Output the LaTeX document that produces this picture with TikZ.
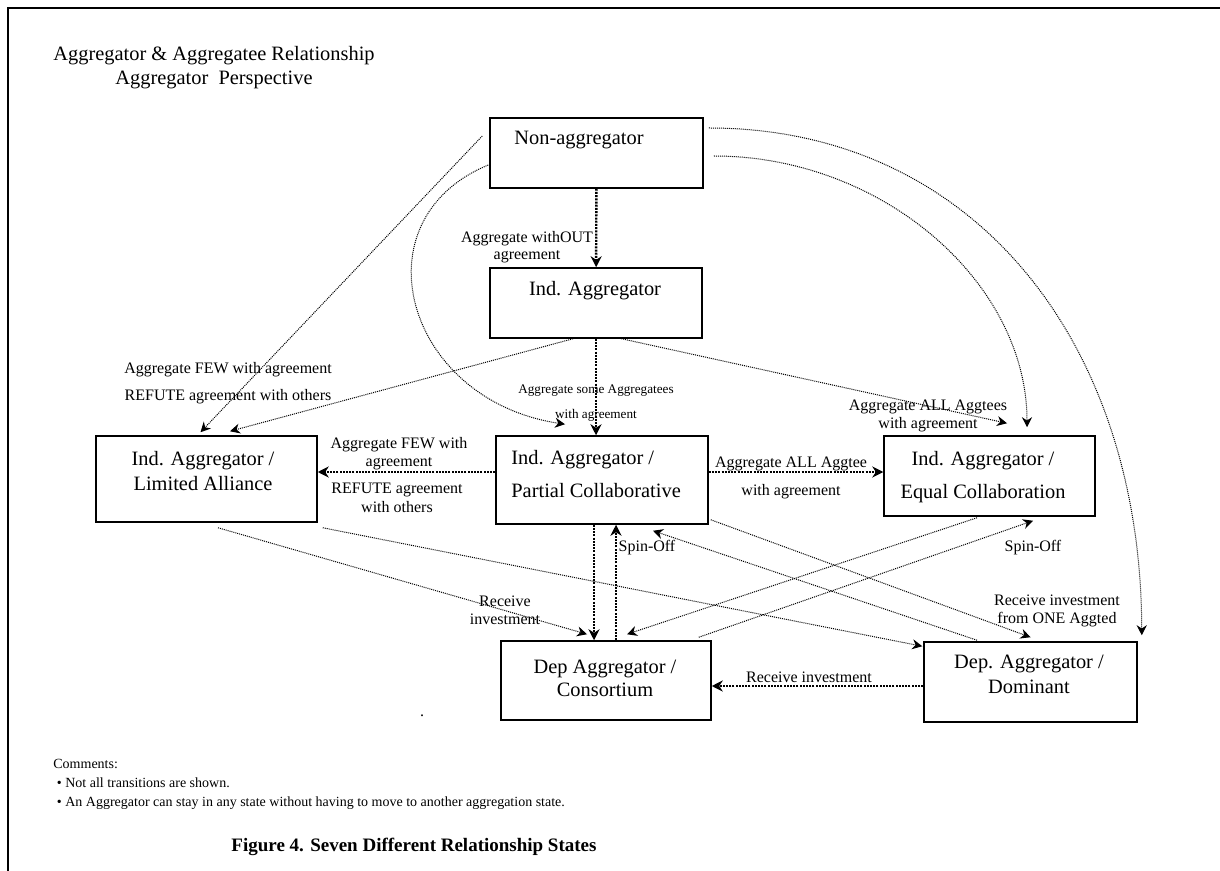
\documentclass[tikz,border=0pt]{standalone}
\usepackage{fontspec}
\setmainfont{Liberation Serif}
\usetikzlibrary{arrows.meta}

\begin{document}
\begin{tikzpicture}[x=0.5pt, y=-0.5pt,
    state/.style={draw, line width=0.75pt, inner sep=0pt},
    statetext/.style={inner sep=0pt, align=center, font=\fontsize{10.2}{12.5}\selectfont},
    lbl/.style={inner sep=0pt, align=center, font=\fontsize{8}{9}\selectfont},
    bigarr/.style={line width=1.2pt, dash pattern=on 1pt off 0.6pt, -{Stealth[length=5.5pt,width=5.5pt]}},
    thinarr/.style={line width=0.5pt, dash pattern=on 0.5pt off 0.5pt, -{Stealth[length=5pt,width=5pt]}}]

  \useasboundingbox (0,0) rectangle (1220,871);
  \draw[line width=1pt] (8,871) -- (8,8) -- (1220,8);

  \node[statetext, anchor=north, font=\fontsize{10.2}{12}\selectfont] (title) at (214,46)
    {Aggregator \& Aggregatee Relationship\\Aggregator~~Perspective};

  % states
  \node[state, minimum width=106.5pt, minimum height=35pt] (nonagg) at (596.5,153) {};
  \node[state, minimum width=106pt, minimum height=35pt] (indagg) at (596,303) {};
  \node[state, minimum width=110.5pt, minimum height=43pt] (limall) at (206.5,479) {};
  \node[state, minimum width=106pt, minimum height=44pt] (partcol) at (602,480) {};
  \node[state, minimum width=105.5pt, minimum height=40pt] (eqcol) at (989.5,476) {};
  \node[state, minimum width=105pt, minimum height=39.5pt] (consort) at (606,680.5) {};
  \node[state, minimum width=106.5pt, minimum height=40pt] (dom) at (1030.5,682) {};

  \node[statetext, anchor=north] (nonaggtxt) at (579,131) {Non-aggregator};
  \node[statetext, anchor=north] (indaggtxt) at (595,281) {Ind. Aggregator};
  \node[statetext, anchor=north] (limalltxt) at (203,451) {Ind. Aggregator /\\Limited Alliance};
  \node[statetext, anchor=north west, align=left, font=\fontsize{10.2}{16.5}\selectfont] (partcoltxt) at (511,450)
    {Ind. Aggregator /\\Partial Collaborative};
  \node[statetext, anchor=north, font=\fontsize{10.2}{16.5}\selectfont] (eqcoltxt) at (983,451)
    {Ind. Aggregator /\\Equal Collaboration};
  \node[statetext, anchor=north, font=\fontsize{10.2}{11.5}\selectfont] (consorttxt) at (605,660)
    {Dep Aggregator /\\Consortium};
  \node[statetext, anchor=north] (domtxt) at (1029,655) {Dep. Aggregator /\\Dominant};

  % transitions
  \draw[bigarr] (nonagg) -- (indagg);
  \draw[bigarr] (indagg.south) -- (indagg.south |- partcol.north);
  \draw[bigarr] ([yshift=4pt]partcol.west) -- ([yshift=4pt]partcol.west -| limall.east);
  \draw[bigarr] ([yshift=4pt]partcol.east) -- ([yshift=4pt]partcol.east -| eqcol.west);
  \draw[bigarr] ([xshift=-4pt]partcol.south) -- ([xshift=-4pt]partcol.south |- consort.north);
  \draw[bigarr] ([xshift=7pt]partcol.south |- consort.north) -- ([xshift=7pt]partcol.south);
  \draw[bigarr] ([yshift=-2pt]dom.west) -- ([yshift=-2pt]dom.west -| consort.east);

  \draw[thinarr] ([shift={(-7,-17)}]nonagg.west) -- ([shift={(-6,-3)}]limall.north);
  \draw[thinarr] ([shift={(-23,0)}]indagg.south) -- ([shift={(23.5,-4)}]limall.north);
  \draw[thinarr] ([shift={(-1,12)}]nonagg.west) .. controls (355,220) and (405,400) .. ([shift={(-37,-11)}]partcol.north);
  \draw[thinarr] ([shift={(5,-25)}]nonagg.east) .. controls (973,128) and (1141,341) .. ([shift={(4,-6)}]dom.north east);
  \draw[thinarr] ([shift={(10,3)}]nonagg.east) .. controls (883,156) and (1027,283) .. ([shift={(37.5,-8)}]eqcol.north);
  \draw[thinarr] ([shift={(21,-1)}]indagg.south) -- ([shift={(17.5,-12)}]eqcol.north);
  \draw[thinarr] ([shift={(11.5,5)}]limall.south) -- ([shift={(-19,-6)}]consort.north);
  \draw[thinarr] ([shift={(5,5)}]limall.south east) -- ([shift={(-1,5)}]dom.north west);
  \draw[thinarr] ([shift={(2,-5)}]partcol.south east) -- ([shift={(0,-4)}]dom.north);
  \draw[thinarr] ([shift={(-53.5,-1)}]dom.north) -- ([shift={(51,6)}]partcol.south);
  \draw[thinarr] ([shift={(-12.5,1)}]eqcol.south) -- ([shift={(21,-6)}]consort.north);
  \draw[thinarr] ([shift={(-13,-3)}]consort.north east) -- ([shift={(43.5,4)}]eqcol.south);

  % transition labels
  \node[lbl, anchor=north, font=\fontsize{8}{8.5}\selectfont] (withoutlbl) at (527,231) {Aggregate withOUT\\agreement};
  \node[lbl, anchor=north, font=\fontsize{6.6}{12.5}\selectfont] (somelbl) at (596,384) {Aggregate some Aggregatees\\with agreement};
  \node[lbl, anchor=north, font=\fontsize{8}{13.5}\selectfont] (fewtoplbl) at (228,362) {Aggregate FEW with agreement\\REFUTE agreement with others};
  \node[lbl, anchor=north] (fewlbl) at (399,437) {Aggregate FEW with\\agreement};
  \node[lbl, anchor=north, font=\fontsize{8}{9.5}\selectfont] (refutelbl) at (397,483) {REFUTE agreement\\with others};
  \node[lbl, anchor=north, font=\fontsize{8}{14}\selectfont] (alllbl) at (791,457) {Aggregate ALL Aggtee\\with agreement};
  \node[lbl, anchor=north] (alltoplbl) at (928,400) {Aggregate ALL Aggtees\\with agreement};
  \node[lbl, anchor=north] (recvlbl) at (505,596) {Receive\\investment};
  \node[lbl, anchor=north] (spinlbl) at (647,540) {Spin-Off};
  \node[lbl, anchor=north] (spineqlbl) at (1033,540) {Spin-Off};
  \node[lbl, anchor=north] (recvonelbl) at (1057,595) {Receive investment\\from ONE Aggted};
  \node[lbl, anchor=north] (recvdomlbl) at (809,672) {Receive investment};
  \node[lbl] (dot) at (422,716) {.};

  \node[lbl, anchor=north west, align=left, font=\fontsize{7}{9.5}\selectfont] (comments) at (53,759)
    {Comments:\\\ • Not all transitions are shown.\\\ • An Aggregator can stay in any state without having to move to another aggregation state.};
  \node[lbl, font=\fontsize{9.5}{11}\selectfont\bfseries] (caption) at (414,847)
    {Figure 4. Seven Different Relationship States};
\end{tikzpicture}
\end{document}
